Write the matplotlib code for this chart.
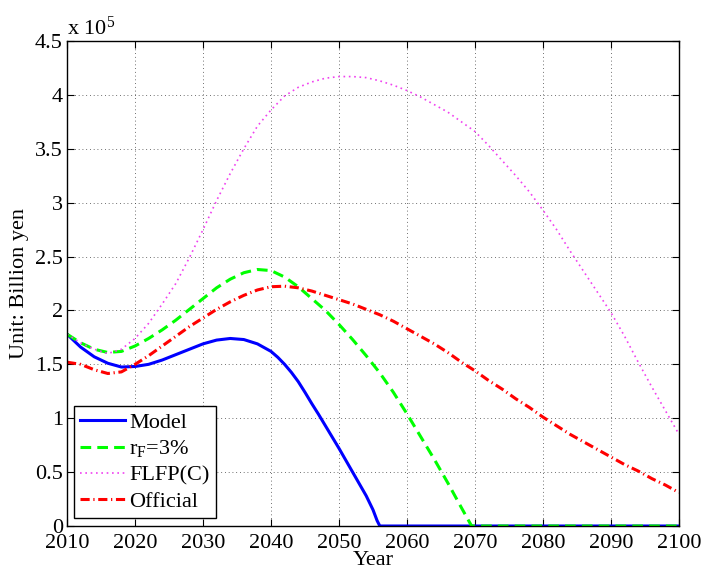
import matplotlib
matplotlib.use("Agg")
import matplotlib.pyplot as plt

plt.rcParams['font.family'] = ['Liberation Serif', 'DejaVu Serif']
plt.rcParams['mathtext.fontset'] = 'custom'
plt.rcParams['mathtext.rm'] = 'Liberation Serif'
plt.rcParams['mathtext.it'] = 'Liberation Serif:italic'

# values in units of 1e5 billion yen
model_years = [2010, 2012, 2014, 2016, 2018, 2020, 2022, 2024, 2026, 2028, 2030, 2032, 2034,
               2036, 2038, 2040, 2041, 2042, 2043, 2044, 2045, 2046, 2047, 2048, 2050, 2052,
               2054, 2055, 2055.6, 2056, 2100]
model_vals = [1.78, 1.66, 1.57, 1.51, 1.475, 1.48, 1.50, 1.54, 1.59, 1.64, 1.69, 1.725, 1.74,
              1.73, 1.69, 1.62, 1.565, 1.50, 1.425, 1.34, 1.24, 1.135, 1.035, 0.93, 0.72, 0.50,
              0.28, 0.15, 0.05, 0.0, 0.0]

rf_years = [2010, 2012, 2014, 2016, 2018, 2020, 2022, 2024, 2026, 2028, 2030, 2032, 2034, 2036,
            2038, 2040, 2042, 2044, 2046, 2048, 2050, 2052, 2054, 2056, 2058, 2060, 2062, 2064,
            2066, 2068, 2069.5, 2100]
rf_vals = [1.78, 1.70, 1.64, 1.61, 1.62, 1.67, 1.74, 1.82, 1.91, 2.01, 2.11, 2.21, 2.29, 2.35,
           2.38, 2.37, 2.31, 2.22, 2.11, 2.00, 1.87, 1.73, 1.58, 1.42, 1.24, 1.04, 0.83, 0.62,
           0.40, 0.17, 0.0, 0.0]

flfp_years = [2010, 2012, 2014, 2016, 2018, 2020, 2022, 2024, 2026, 2028, 2030, 2032, 2034, 2036,
              2038, 2040, 2042, 2044, 2046, 2048, 2050, 2052, 2054, 2056, 2058, 2060, 2062, 2064,
              2066, 2068, 2070, 2072, 2074, 2076, 2078, 2080, 2082, 2084, 2086, 2088, 2090, 2092,
              2094, 2096, 2098, 2100]
flfp_vals = [1.78, 1.70, 1.64, 1.60, 1.64, 1.74, 1.88, 2.06, 2.25, 2.49, 2.75, 3.02, 3.27, 3.50,
             3.71, 3.86, 3.99, 4.07, 4.12, 4.155, 4.17, 4.17, 4.16, 4.13, 4.09, 4.04, 3.98, 3.91,
             3.84, 3.75, 3.66, 3.53, 3.39, 3.25, 3.10, 2.93, 2.75, 2.55, 2.36, 2.17, 1.98, 1.76,
             1.52, 1.29, 1.07, 0.85]

off_years = [2010, 2012, 2014, 2016, 2018, 2020, 2022, 2024, 2026, 2028, 2030, 2032, 2034, 2036,
             2038, 2040, 2042, 2044, 2046, 2048, 2050, 2052, 2054, 2056, 2058, 2060, 2062, 2064,
             2066, 2068, 2070, 2072, 2074, 2076, 2078, 2080, 2082, 2084, 2086, 2088, 2090, 2092,
             2094, 2096, 2098, 2100]
off_vals = [1.52, 1.50, 1.45, 1.415, 1.43, 1.50, 1.58, 1.67, 1.76, 1.85, 1.93, 2.01, 2.08, 2.14,
            2.19, 2.22, 2.225, 2.21, 2.18, 2.14, 2.10, 2.06, 2.01, 1.96, 1.90, 1.83, 1.76, 1.69,
            1.61, 1.52, 1.44, 1.35, 1.27, 1.18, 1.10, 1.01, 0.93, 0.85, 0.78, 0.71, 0.64, 0.57,
            0.51, 0.44, 0.38, 0.31]

xticks = list(range(2010, 2101, 10))
yticks = [0, 0.5, 1, 1.5, 2, 2.5, 3, 3.5, 4, 4.5]
ytick_labels = ['0', '0.5', '1', '1.5', '2', '2.5', '3', '3.5', '4', '4.5']

fig = plt.figure(figsize=(7.04, 5.71), dpi=100)
ax = fig.add_axes([0.0952, 0.0788, 0.8693, 0.8494])

ax.plot(model_years, model_vals, color='#0000ff', lw=2.2, label='Model')
ax.plot(rf_years, rf_vals, color='#00ff00', lw=2.2, dashes=(3.5, 2), label=r'r$_{\rm F}$=3%')
ax.plot(flfp_years, flfp_vals, color='#f040f0', lw=1.2, dashes=(1, 2.2), label='FLFP(C)')
ax.plot(off_years, off_vals, color='#ff0000', lw=2.2, dashes=(3, 1.2, 0.4, 1.2), label='Official')

ax.set_xlim(2010, 2100)
ax.set_ylim(0, 4.5)
ax.set_xticks(xticks)
ax.set_yticks(yticks)
ax.set_yticklabels(ytick_labels)
ax.tick_params(direction='in', length=5, width=0.8, labelsize=16, top=True, right=True, pad=3)
ax.tick_params(axis='x', pad=6)
for s in ax.spines.values():
    s.set_linewidth(1.0)
ax.grid(True, color='0.25', linestyle=(0, (1, 3.5)), linewidth=0.6)

ax.set_xlabel('Year', fontsize=16, labelpad=-2)
ax.set_ylabel('Unit: Billion yen', fontsize=16, labelpad=4)
ax.text(0.0, 1.003, r'x 10$^{5}$', transform=ax.transAxes, fontsize=16, ha='left', va='bottom')

leg = ax.legend(loc='lower left', bbox_to_anchor=(0.011, 0.016), borderaxespad=0,
                fontsize=16, fancybox=False, framealpha=1, edgecolor='black',
                handlelength=2.0, labelspacing=0.25, borderpad=0.3, handletextpad=0.2)
leg.get_frame().set_linewidth(1.0)

fig.savefig('out.png', dpi=100)
